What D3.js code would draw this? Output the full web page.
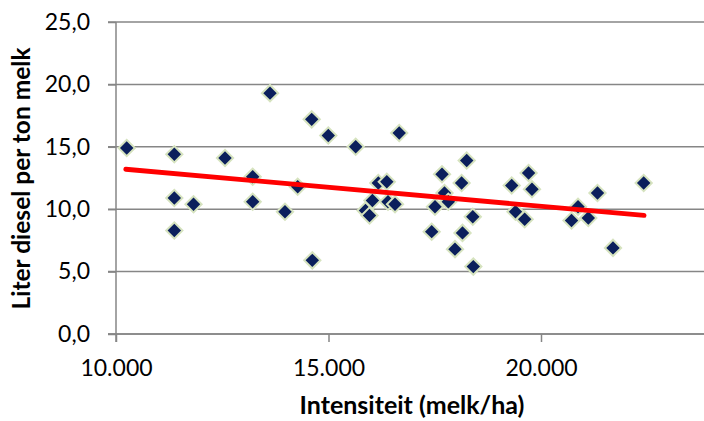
<!DOCTYPE html>
<html>
<head>
<meta charset="utf-8">
<script src="https://cdn.jsdelivr.net/npm/d3@7"></script>
<style>
  body { margin: 0; background: #fff; }
  svg { display: block; }
  text { font-family: Lato, "Open Sans", sans-serif; fill: #000; }
</style>
</head>
<body>
<svg width="704" height="421"></svg>
<script>
// Intensiteit (melk/ha) per bedrijf
const intensiteit = [
  10252, 11372, 11372, 11372, 11824, 12565, 13216, 13216, 13624, 13976,
  14275, 14605, 14619, 14995, 15640, 15871, 15965, 16033, 16172, 16372,
  16400, 16565, 16664, 17428, 17506, 17671, 17729, 17819, 17976, 18132,
  18153, 18252, 18395, 18407, 19311, 19400, 19616, 19708, 19788, 20718,
  20871, 21113, 21329, 21694, 22416
];
// Liter diesel per ton melk
const diesel = [
  14.9, 14.4, 10.9, 8.3, 10.4, 14.1, 12.6, 10.6, 19.3, 9.8,
  11.8, 17.2, 5.9, 15.9, 15.0, 9.9, 9.5, 10.7, 12.1, 12.2,
  10.6, 10.4, 16.1, 8.2, 10.2, 12.8, 11.3, 10.6, 6.8, 12.1,
  8.1, 13.9, 9.4, 5.4, 11.9, 9.8, 9.2, 12.9, 11.6, 9.1,
  10.2, 9.3, 11.3, 6.9, 12.1
];
// trendline (linear) end points
const trendX = [10230, 22425];
const trendY = [13.2, 9.5];

const xTicks = [10000, 15000, 20000];
const yTicks = [0, 5, 10, 15, 20, 25];

const svg = d3.select("svg");
const nl = d3.formatLocale({decimal: ",", thousands: ".", grouping: [3], currency: ["", ""]});

const x = d3.scaleLinear().domain([10000, 25000]).range([116, 753.5]);
const y = d3.scaleLinear().domain([0, 25]).range([334, 22]);

const gridColor = "#868686";

// horizontal gridlines
svg.append("g")
  .selectAll("line")
  .data(yTicks)
  .enter()
  .append("line")
  .attr("x1", 108)
  .attr("x2", 704)
  .attr("y1", d => y(d))
  .attr("y2", d => y(d))
  .attr("stroke", gridColor)
  .attr("stroke-width", 1.5);

// y axis
const yAxis = svg.append("g")
  .attr("transform", "translate(116,0)")
  .call(d3.axisLeft(y).tickValues(yTicks).tickSize(8).tickPadding(18)
    .tickFormat(nl.format(".1f")));

// x axis
const xAxis = svg.append("g")
  .attr("transform", "translate(0,334)")
  .call(d3.axisBottom(x).tickValues(xTicks).tickSize(8).tickPadding(18)
    .tickFormat(nl.format(",d")));

[yAxis, xAxis].forEach(ax => {
  ax.select(".domain").attr("stroke", gridColor).attr("stroke-width", 1.5);
  ax.selectAll(".tick line").attr("stroke", gridColor).attr("stroke-width", 1.5);
  ax.selectAll(".tick text").style("font-size", "23px").style("font-family", "Lato, sans-serif").attr("fill", "#000");
});
yAxis.select(".domain").attr("d", "M0,22V342");
xAxis.select(".domain").attr("d", "M108,0H704");

// points
const diamond = d3.symbol().type(d3.symbolSquare).size(132);
svg.append("g")
  .selectAll("path")
  .data(intensiteit.map((v, i) => ({x: v, y: diesel[i]})))
  .enter()
  .append("path")
  .attr("d", diamond)
  .attr("transform", d => `translate(${x(d.x)},${y(d.y)}) rotate(45)`)
  .attr("fill", "#0b1f5c")
  .attr("stroke", "#d6e3bf")
  .attr("stroke-width", 2);

// trendline
svg.append("line")
  .attr("x1", x(trendX[0]))
  .attr("y1", y(trendY[0]))
  .attr("x2", x(trendX[1]))
  .attr("y2", y(trendY[1]))
  .attr("stroke", "#ff0000")
  .attr("stroke-width", 4.8)
  .attr("stroke-linecap", "round");

// axis titles
svg.append("text")
  .attr("x", 412)
  .attr("y", 414)
  .attr("text-anchor", "middle")
  .style("font-weight", "bold")
  .style("font-size", "25px")
  .text("Intensiteit (melk/ha)");

svg.append("text")
  .attr("transform", "translate(29.5,178.5) rotate(-90)")
  .attr("text-anchor", "middle")
  .style("font-weight", "bold")
  .style("font-size", "24.5px")
  .text("Liter diesel per ton melk");
</script>
</body>
</html>
